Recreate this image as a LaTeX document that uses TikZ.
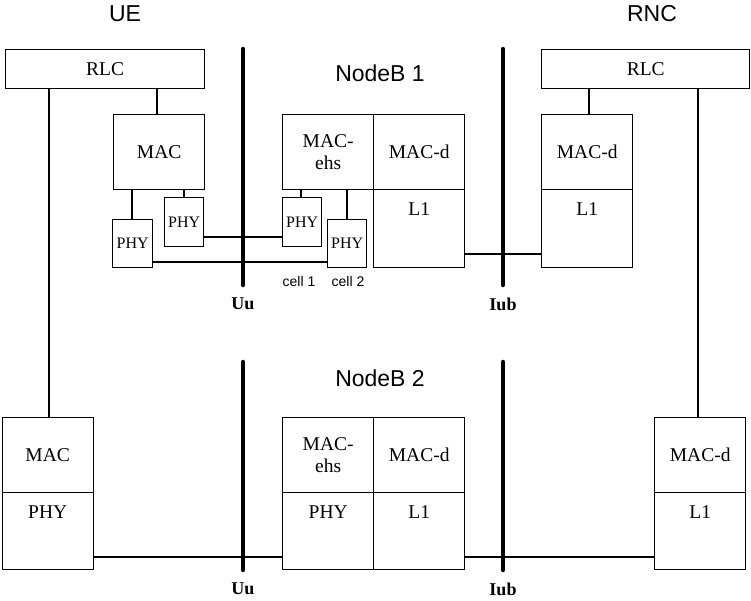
\documentclass[tikz,border=0pt]{standalone}
\usepackage{fontspec}
\setmainfont{Liberation Serif}
\newfontfamily\sansf{Liberation Sans}
\begin{document}
\begin{tikzpicture}[x=1pt,y=-1pt,
  box/.style={draw, line width=1.4pt, inner sep=0pt, anchor=north west, align=center,
    font=\fontsize{19.5}{21.5}\selectfont},
  phybox/.style={box, font=\fontsize{16}{18}\selectfont},
  txt/.style={inner sep=0pt, font=\fontsize{19.5}{21.5}\selectfont},
  title/.style={inner sep=0pt, font=\sansf\fontsize{23}{26}\selectfont},
  small/.style={inner sep=0pt, font=\sansf\fontsize{14}{16}\selectfont},
  iface/.style={inner sep=0pt, font=\bfseries\fontsize{18}{20}\selectfont},
  conn/.style={line width=1.4pt},
  bar/.style={line width=4.5pt, line cap=round}]
\useasboundingbox (0,0) rectangle (751,600);

% ---------- titles
\node[title] (tue) at (125,14) {UE};
\node[title] (trnc) at (652,14) {RNC};
\node[title] (tnb1) at (380,73) {NodeB 1};
\node[title] (tnb2) at (380,378) {NodeB 2};

% ---------- UE (top)
\node[box, minimum width=199pt, minimum height=39pt] (uerlc) at (5,49) {RLC};
\node[box, minimum width=91pt, minimum height=75pt] (uemac) at (113,114) {MAC};
\node[phybox, minimum width=40pt, minimum height=48pt] (uephya) at (112,219) {PHY};
\node[phybox, minimum width=39pt, minimum height=49pt] (uephyb) at (164,197) {PHY};

% ---------- NodeB 1
\node[box, minimum width=91pt, minimum height=75pt] (nbaehs) at (282,114) {MAC-\\ehs};
\node[box, minimum width=91pt, minimum height=75pt] (nbamacd) at (373,114) {MAC-d};
\node[box, minimum width=91pt, minimum height=78pt] (nbal1) at (373,189) {};
\node[txt] (nbal1t) at ([yshift=-20pt]nbal1.north) {L1};
\node[phybox, minimum width=39pt, minimum height=49pt] (cellaphy) at (282,197) {PHY};
\node[phybox, minimum width=39pt, minimum height=48pt] (cellbphy) at (327,219) {PHY};
\node[small] (cella) at (299,281) {cell 1};
\node[small] (cellb) at (348,281) {cell 2};

% ---------- RNC (top)
\node[box, minimum width=208pt, minimum height=39pt] (rncrlc) at (541,49) {RLC};
\node[box, minimum width=91pt, minimum height=75pt] (rncamacd) at (541,114) {MAC-d};
\node[box, minimum width=91pt, minimum height=78pt] (rncal1) at (541,189) {};
\node[txt] (rncal1t) at ([yshift=-20pt]rncal1.north) {L1};

% ---------- UE (bottom)
\node[box, minimum width=91pt, minimum height=75pt] (uebmac) at (1.5,417) {MAC};
\node[box, minimum width=91pt, minimum height=77pt] (uebphy) at (1.5,492) {};
\node[txt] (uebphyt) at ([yshift=-20pt]uebphy.north) {PHY};

% ---------- NodeB 2
\node[box, minimum width=91pt, minimum height=75pt] (nbbehs) at (282,417) {MAC-\\ehs};
\node[box, minimum width=91pt, minimum height=77pt] (nbbphy) at (282,492) {};
\node[txt] (nbbphyt) at ([yshift=-20pt]nbbphy.north) {PHY};
\node[box, minimum width=91pt, minimum height=75pt] (nbbmacd) at (373,417) {MAC-d};
\node[box, minimum width=91pt, minimum height=77pt] (nbbl1) at (373,492) {};
\node[txt] (nbbl1t) at ([yshift=-20pt]nbbl1.north) {L1};

% ---------- RNC (bottom)
\node[box, minimum width=91pt, minimum height=75pt] (rncbmacd) at (654,417) {MAC-d};
\node[box, minimum width=91pt, minimum height=77pt] (rncbl1) at (654,492) {};
\node[txt] (rncbl1t) at ([yshift=-20pt]rncbl1.north) {L1};

% ---------- connectors
\draw[conn] (uerlc.south -| 49,0) -- (49,0 |- uebmac.north);
\draw[conn] (uerlc.south -| 157,0) -- (157,0 |- uemac.north);
\draw[conn] (uemac.south -| 132,0) -- (132,0 |- uephya.north);
\draw[conn] (uemac.south -| 184,0) -- (184,0 |- uephyb.north);
\draw[conn] (uephyb.east |- 0,237) -- (cellaphy.west |- 0,237);
\draw[conn] (uephya.east |- 0,262) -- (cellbphy.west |- 0,262);
\draw[conn] (nbaehs.south -| 301,0) -- (301,0 |- cellaphy.north);
\draw[conn] (nbaehs.south -| 347,0) -- (347,0 |- cellbphy.north);
\draw[conn] (nbal1.east |- 0,254) -- (rncal1.west |- 0,254);
\draw[conn] (rncrlc.south -| 589,0) -- (589,0 |- rncamacd.north);
\draw[conn] (rncrlc.south -| 698,0) -- (698,0 |- rncbmacd.north);
\draw[conn] (uebphy.east |- 0,557) -- (nbbphy.west |- 0,557);
\draw[conn] (nbbl1.east |- 0,557) -- (rncbl1.west |- 0,557);

% ---------- interface bars and labels
\coordinate (uuat) at (243,49);  \coordinate (uuab) at (243,285);
\coordinate (iubat) at (503,49); \coordinate (iubab) at (503,285);
\coordinate (uubt) at (243,362); \coordinate (uubb) at (243,570);
\coordinate (iubbt) at (503,362); \coordinate (iubbb) at (503,570);
\draw[bar] (uuat) -- (uuab);
\draw[bar] (iubat) -- (iubab);
\draw[bar] (uubt) -- (uubb);
\draw[bar] (iubbt) -- (iubbb);
\node[iface] (uua) at (243,304) {Uu};
\node[iface] (iuba) at (503,304) {Iub};
\node[iface] (uub) at (243,589) {Uu};
\node[iface] (iubb) at (503,589) {Iub};
\end{tikzpicture}
\end{document}
